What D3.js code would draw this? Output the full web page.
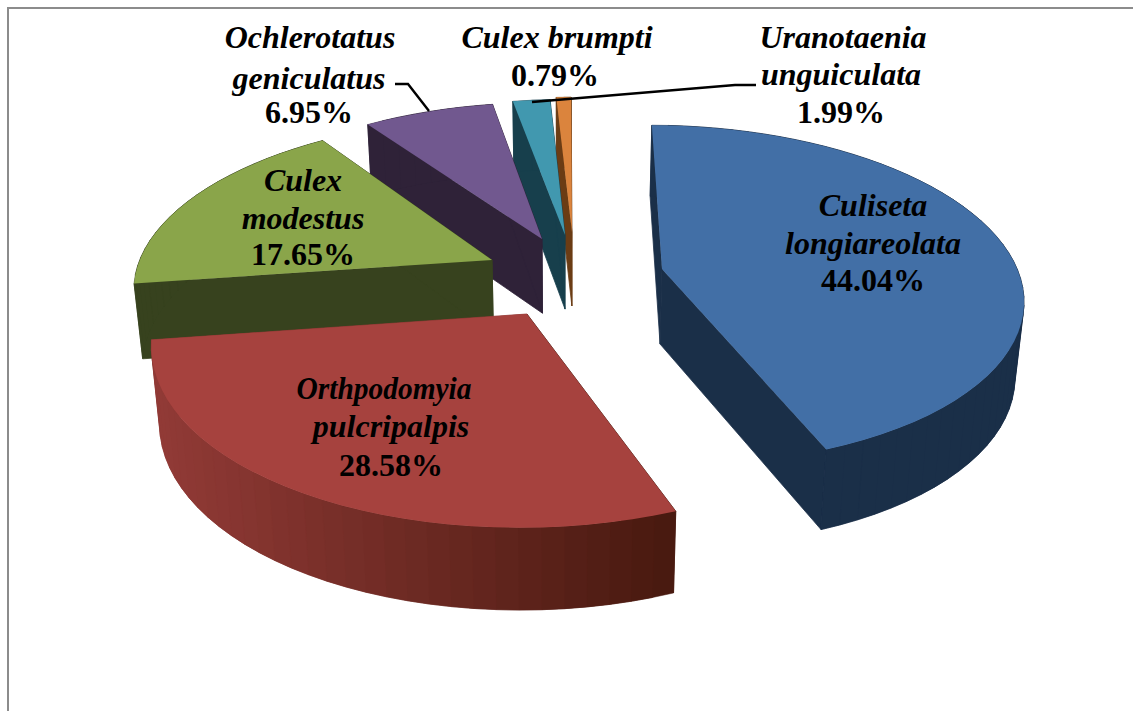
<!DOCTYPE html>
<html><head><meta charset="utf-8">
<script src="https://cdnjs.cloudflare.com/ajax/libs/d3/7.8.5/d3.min.js"></script>
<style>html,body{margin:0;padding:0;background:#fff}svg{display:block}
text{font-family:"Liberation Serif",serif;font-weight:bold;font-size:32px;fill:#000;text-anchor:middle}
.it{font-style:italic}</style></head><body>
<svg id="c" width="1133" height="711"></svg>
<script>
// Data
const species = ["Culiseta longiareolata","Orthpodomyia pulcripalpis","Culex modestus","Ochlerotatus geniculatus","Uranotaenia unguiculata","Culex brumpti"];
const shares = [44.04,28.58,17.65,6.95,1.99,0.79];
const labelLines = [["Culiseta","longiareolata"],["Orthpodomyia","pulcripalpis"],["Culex","modestus"],["Ochlerotatus","geniculatus"],["Uranotaenia","unguiculata"],["Culex brumpti"]];
const percentLabels = ["44.04%","28.58%","17.65%","6.95%","1.99%","0.79%"];
// Styles / layout
const topColors = ["#426fa6","#a6423e","#8aa54a","#71588f","#4198af","#db843d"];
const wallLeft  = ["#1a2f48","#913a36","#37421e","#2f2238","#173f4c","#6b3c14"];
const wallRight = ["#1a2f48","#47190f","#37421e","#2f2238","#173f4c","#6b3c14"];
const explodeX = [97,-38,-73,-23,0,7];
const explodeY = [19,64,10,-11,-15,-18];
const sliceTurnDeg = [0.5,0.5,0.5,0,0,0];
const drawOrder = [5,4,3,2,1,0];
const labelX = [[873,873,873],[384,391,391],[303,303,303],[310,309,309],[843,841,841],[557,555]];
const labelY = [[216,254,291],[399,437,476],[191,229,265],[48,89,123],[48,85,123],[48,86]];

const vx=565, vy=250, A=349, B=160, k=0.15;
const project=(u,v)=>{const w=1+k*v;return [vx+A*u/w, vy-B*v/w];};
const unproject=(dx,dy)=>{const t=-dy,v=t/(B-k*t);return [dx*(1+k*v)/A,v];};
const lower=p=>{const h=71+(p[1]-125)*0.028;return [vx+(p[0]-vx)*0.98,p[1]+h];};

const svg=d3.select("#c");
svg.append("path").attr("d",d3.line()([[1133,8],[8,8],[8,711]])).attr("fill","none").attr("stroke","#8c8c8c").attr("stroke-width",2);

const pie=d3.pie().sort(null).value(d=>d)(shares);
const line=d3.line();
const gMarks=svg.append("g");
drawOrder.forEach(i=>{
  const a=pie[i];
  const turn=sliceTurnDeg[i]*Math.PI/180;
  const [cu,cv]=unproject(explodeX[i],explodeY[i]);
  const n=Math.max(2,Math.round((a.endAngle-a.startAngle)/(Math.PI/60)));
  const angs=d3.range(n+1).map(j=>turn+a.startAngle+(a.endAngle-a.startAngle)*j/n);
  const rim=angs.map(t=>project(cu+Math.sin(t),cv+Math.cos(t)));
  const apex=project(cu,cv);
  const g=gMarks.append("g");
  const xc=d3.scaleLinear().domain([160,676]).range([wallLeft[i],wallRight[i]]).interpolate(d3.interpolateRgb).clamp(true);
  // cut faces
  [rim[0],rim[n]].forEach(p=>{
    const col=xc(p[0]);
    g.append("path").attr("d",line([apex,p,lower(p),lower(apex)])+"Z").attr("fill",col).attr("stroke",col).attr("stroke-width",0.8);
  });
  // outer wall bands: each overlaps the next one so no seams show
  d3.range(n).forEach(j=>{
    const p=rim[j],q=rim[j+1],r=rim[Math.min(n,j+2)];
    const col=xc((p[0]+q[0])/2);
    g.append("path").attr("d",line([p,q,r,lower(r),lower(q),lower(p)])+"Z").attr("fill",col).attr("stroke",col).attr("stroke-width",0.5);
  });
  // top
  g.append("path").attr("d",line([apex,...rim])+"Z").attr("fill",topColors[i]);
});

// leader lines
const leaders=[[[395,84],[408,84],[429,111]],[[756,85],[735,85],[532,102]]];
leaders.forEach(l=>svg.append("path").attr("d",line(l)).attr("fill","none").attr("stroke","#000").attr("stroke-width",2.4));

// labels
species.forEach((s,i)=>{
  const lines=labelLines[i];
  lines.forEach((t,j)=>{
    const el=svg.append("text").attr("class","it").attr("x",labelX[i][j]).attr("y",labelY[i][j]).text(t);
    if(t==="Orthpodomyia") el.attr("textLength",175).attr("lengthAdjust","spacingAndGlyphs");
  });
  svg.append("text").attr("x",labelX[i][lines.length]).attr("y",labelY[i][lines.length]).text(percentLabels[i]);
});
</script></body></html>
